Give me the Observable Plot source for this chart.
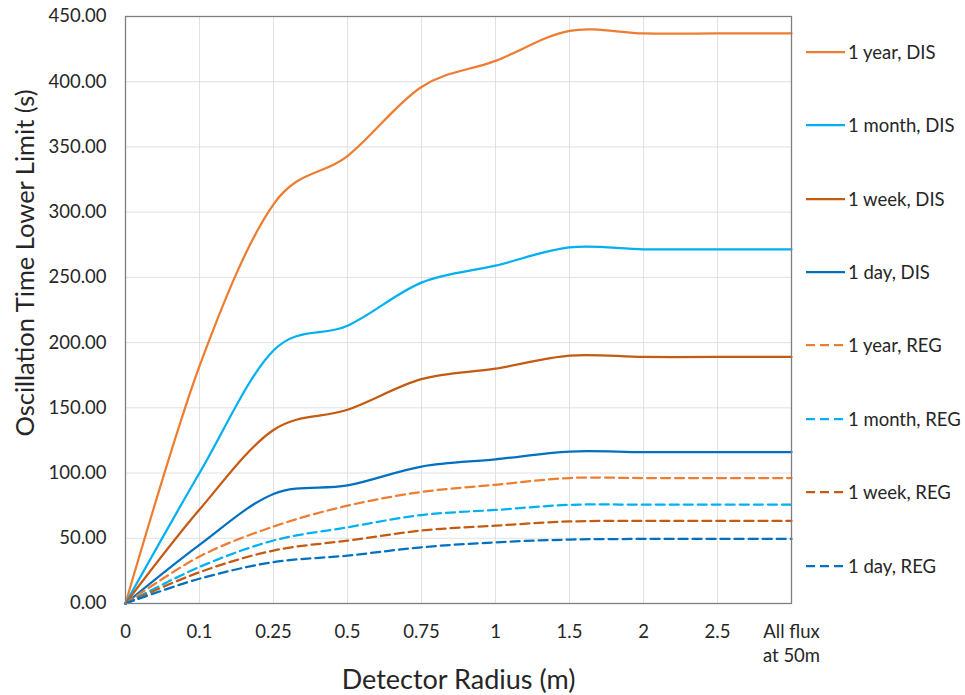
<!DOCTYPE html>
<html><head><meta charset="utf-8">
<script src="https://cdn.jsdelivr.net/npm/d3@7"></script>
<script src="https://cdn.jsdelivr.net/npm/@observablehq/plot@0.6"></script>
<style>
body{margin:0;background:#fff;font-family:Lato,sans-serif;}
#wrap{position:relative;width:965px;height:695px;overflow:hidden;}
#legend{position:absolute;left:806px;top:0;}
.item{position:absolute;left:0;height:24px;display:flex;align-items:center;white-space:nowrap;font-size:18.5px;color:#262626;}
.item svg{margin-right:3px;}
</style></head><body><div id="wrap"><div id="chart"></div><div id="legend"></div></div>
<script>
const radii = ["0","0.1","0.25","0.5","0.75","1","1.5","2","2.5","All flux\nat 50m"];
const seriesNames = ["1 year, DIS","1 month, DIS","1 week, DIS","1 day, DIS","1 year, REG","1 month, REG","1 week, REG","1 day, REG"];
const seriesColors = ["#ED7D31","#00B0F0","#C55A11","#0070C0","#ED7D31","#00B0F0","#C55A11","#0070C0"];
const seriesDashed = [false,false,false,false,true,true,true,true];
const yearDIS  = [0,182,306,343,396,416,439,437,437,437];
const monthDIS = [0,100,194,213,246,259,273,271.5,271.5,271.5];
const weekDIS  = [0,72,133,148.5,172,180,190,189,189,189];
const dayDIS   = [0,45,84,90.5,105,110.5,116.5,116,116,116];
const yearREG  = [0,36,59,75,85.5,91,96.2,96.2,96.2,96.2];
const monthREG = [0,28,48.3,58.4,67.8,71.7,75.6,75.8,75.8,75.8];
const weekREG  = [0,24,40.6,48.2,55.9,59.7,62.9,63.3,63.3,63.3];
const dayREG   = [0,19,31.7,36.7,43.1,46.9,49,49.5,49.5,49.5];
const yTicks = [0,50,100,150,200,250,300,350,400,450];
const yTitle = "Oscillation Time Lower Limit (s)";
const xTitle = "Detector Radius (m)";

const allValues = [yearDIS,monthDIS,weekDIS,dayDIS,yearREG,monthREG,weekREG,dayREG];
const rows = [];
allValues.forEach((vals, s) => vals.forEach((v, i) => rows.push({r: radii[i], v, name: seriesNames[s], dashed: seriesDashed[s]})));

const chart = Plot.plot({
  width: 965, height: 695,
  marginLeft: 125, marginRight: 174, marginTop: 16, marginBottom: 92,
  style: {fontFamily: "Lato, sans-serif", fontSize: "18.5px", color: "#262626", background: "#fff", overflow: "visible"},
  x: {type: "point", domain: radii, padding: 0},
  y: {domain: [0, 450]},
  color: {domain: seriesNames, range: seriesColors},
  marks: [
    Plot.gridX(radii, {stroke: "#d9d9d9", strokeOpacity: 0.8}),
    Plot.gridY(yTicks, {stroke: "#d9d9d9", strokeOpacity: 0.8}),
    Plot.axisX({tickSize: 0, tickPadding: 17, label: null, lineHeight: 1.3}),
    Plot.axisY({ticks: yTicks, tickFormat: d3.format(".2f"), tickSize: 0, tickPadding: 19, label: null}),
    Plot.line(rows.filter(d => !d.dashed), {x: "r", y: "v", z: "name", stroke: "name", curve: "cardinal", tension: 0, strokeWidth: 2.25}),
    Plot.line(rows.filter(d => d.dashed), {x: "r", y: "v", z: "name", stroke: "name", curve: "cardinal", tension: 0, strokeWidth: 2.25, strokeDasharray: "9,5"}),
    Plot.frame({stroke: "#7f7f7f", strokeWidth: 1.3}),
    Plot.text([yTitle], {frameAnchor: "left", textAnchor: "middle", lineAnchor: "middle", rotate: -90, dx: -100, dy: -47, fontSize: 25.5, fill: "#262626"}),
    Plot.text([xTitle], {frameAnchor: "bottom", textAnchor: "middle", lineAnchor: "middle", dy: 77, fontSize: 27, fill: "#262626"})
  ]
});
document.getElementById("chart").appendChild(chart);

const legend = document.getElementById("legend");
seriesNames.forEach((name, i) => {
  const item = document.createElement("div");
  item.className = "item";
  item.style.top = (51.7 + i * 73.4 - 12) + "px";
  const dash = seriesDashed[i] ? ' stroke-dasharray="9,5"' : '';
  item.innerHTML = `<svg width="39" height="10"><line x1="0" y1="5" x2="39" y2="5" stroke="${seriesColors[i]}" stroke-width="2.25"${dash}/></svg><span>${name}</span>`;
  legend.appendChild(item);
});
</script></body></html>
